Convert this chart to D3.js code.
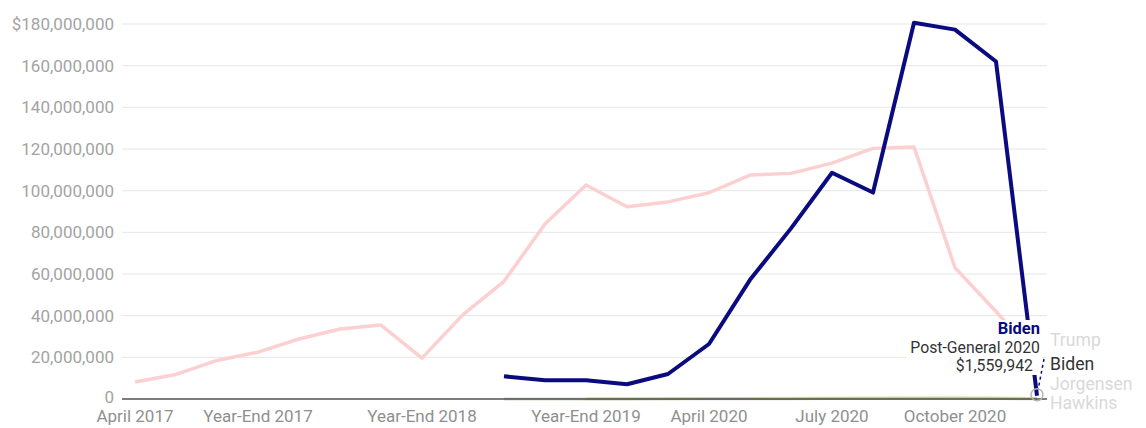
<!DOCTYPE html>
<html>
<head>
<meta charset="utf-8">
<script src="https://cdn.jsdelivr.net/npm/d3@7"></script>
<style>
  html, body { margin: 0; padding: 0; background: #fff; }
  svg { display: block; font-family: Roboto, "Noto Sans", sans-serif; }
</style>
</head>
<body>
<svg id="chart" width="1146" height="428"></svg>
<script>
const categories = ["April 2017","July 2017","October 2017","Year-End 2017","April 2018","July 2018","October 2018","Year-End 2018","April 2019","July 2019","October 2019","Year-End 2019","February 2020","March 2020","April 2020","May 2020","June 2020","July 2020","August 2020","September 2020","October 2020","Pre-General 2020","Post-General 2020"];
const tickLabels = ["April 2017","Year-End 2017","Year-End 2018","Year-End 2019","April 2020","July 2020","October 2020"];
const yTicks = [0,20e6,40e6,60e6,80e6,100e6,120e6,140e6,160e6,180e6];
const trump = [8.2e6,11.8e6,18.5e6,22.5e6,28.8e6,33.6e6,35.5e6,19.6e6,40.5e6,56.5e6,84e6,102.7e6,92.3e6,94.6e6,99e6,107.5e6,108.3e6,113.2e6,120.3e6,121e6,63e6,42e6,20e6];
const biden = [null,null,null,null,null,null,null,null,null,10.9e6,9.0e6,8.95e6,7.1e6,12.0e6,26.4e6,57.2e6,81.9e6,108.6e6,99.1e6,180.6e6,177.3e6,162.0e6,1559942];
const jorgensen = [null,null,null,null,null,null,null,null,null,null,null,0.1e6,0.1e6,0.15e6,0.2e6,0.3e6,0.4e6,0.5e6,0.6e6,0.7e6,0.8e6,0.6e6,0.3e6];
const hawkins = [null,null,null,null,null,null,null,null,null,0.05e6,0.05e6,0.05e6,0.05e6,0.1e6,0.1e6,0.1e6,0.15e6,0.2e6,0.2e6,0.25e6,0.3e6,0.2e6,0.1e6];
const seriesNames = ["Trump","Biden","Jorgensen","Hawkins"];
const hoverIndex = 22;

const svg = d3.select("#chart");
const x = d3.scalePoint().domain(categories).range([135, 1037]);
const y = d3.scaleLinear().domain([0, 180e6]).range([399, 24]);

// gridlines
svg.append("g").selectAll("line").data(yTicks.filter(d => d > 0)).join("line")
  .attr("x1", 122).attr("x2", 1047)
  .attr("y1", d => y(d)).attr("y2", d => y(d))
  .attr("stroke", "#e6e6e6").attr("stroke-width", 1);

// y labels
const fmt = d3.format(",");
svg.append("g").selectAll("text").data(yTicks).join("text")
  .attr("x", 114).attr("y", d => y(d) - (d === 0 ? 2 : 0)).attr("dy", "0.35em")
  .attr("text-anchor", "end")
  .attr("font-size", 17).attr("fill", "#a3a3a3")
  .text(d => d === 180e6 ? "$" + fmt(d) : fmt(d));

// x labels
svg.append("g").selectAll("text").data(tickLabels).join("text")
  .attr("x", d => x(d)).attr("y", 422)
  .attr("text-anchor", "middle")
  .attr("font-size", 17).attr("fill", "#8f8f8f")
  .text(d => d);

const line = d3.line().defined(d => d[1] != null)
  .x(d => x(d[0])).y(d => y(d[1]));
const pairs = arr => categories.map((c, i) => [c, arr[i]]);

svg.append("path").datum(pairs(hawkins)).attr("d", line)
  .attr("fill", "none").attr("stroke", "#3c7a2c").attr("stroke-opacity", 0.25).attr("stroke-width", 3);
svg.append("path").datum(pairs(jorgensen)).attr("d", line)
  .attr("fill", "none").attr("stroke", "#b09000").attr("stroke-opacity", 0.2).attr("stroke-width", 3);

// baseline
svg.append("line").attr("x1", 122).attr("x2", 1047).attr("y1", y(0)).attr("y2", y(0))
  .attr("stroke", "#333").attr("stroke-opacity", 0.85).attr("stroke-width", 1.6);

svg.append("path").datum(pairs(trump)).attr("d", line)
  .attr("fill", "none").attr("stroke", "#fcd0d0").attr("stroke-width", 3.5)
  .attr("stroke-linejoin", "round");
svg.append("path").datum(pairs(biden)).attr("d", line)
  .attr("fill", "none").attr("stroke", "#0b0b80").attr("stroke-width", 4)
  .attr("stroke-linejoin", "round");

// tooltip
const tx = x(categories[hoverIndex]);
svg.append("rect").attr("x", tx - 130).attr("y", 320).attr("width", 135).attr("height", 55)
  .attr("fill", "#fff");
const tip = svg.append("g").attr("text-anchor", "end").attr("font-size", 15.8);
tip.append("text").attr("x", tx + 3).attr("y", 334).attr("font-weight", "bold")
  .attr("font-size", 16.5)
  .attr("fill", "#0b0b80").text("Biden");
tip.append("text").attr("x", tx + 3).attr("y", 353).attr("fill", "#333")
  .text(categories[hoverIndex]);
tip.append("text").attr("x", tx - 4).attr("y", 371).attr("fill", "#333")
  .text("$" + fmt(biden[hoverIndex]));

// connector + hover circle
svg.append("line").attr("x1", tx + 7).attr("y1", 359).attr("x2", tx + 1).attr("y2", 390)
  .attr("stroke", "#0b0b80").attr("stroke-width", 1.5).attr("stroke-dasharray", "3,3");
svg.append("circle").attr("cx", tx).attr("cy", y(biden[hoverIndex]) - 1).attr("r", 6)
  .attr("fill", "none").attr("stroke", "#b5b5b5").attr("stroke-width", 1.5);

// right labels
const labelY = [340, 364, 384, 403];
svg.append("g").selectAll("text").data(seriesNames).join("text")
  .attr("x", 1050).attr("y", (d, i) => labelY[i]).attr("dy", "0.35em")
  .attr("font-size", 17.6)
  .attr("fill", d => d === "Biden" ? "#333" : "#d9d9d9")
  .text(d => d);
</script>
</body>
</html>
